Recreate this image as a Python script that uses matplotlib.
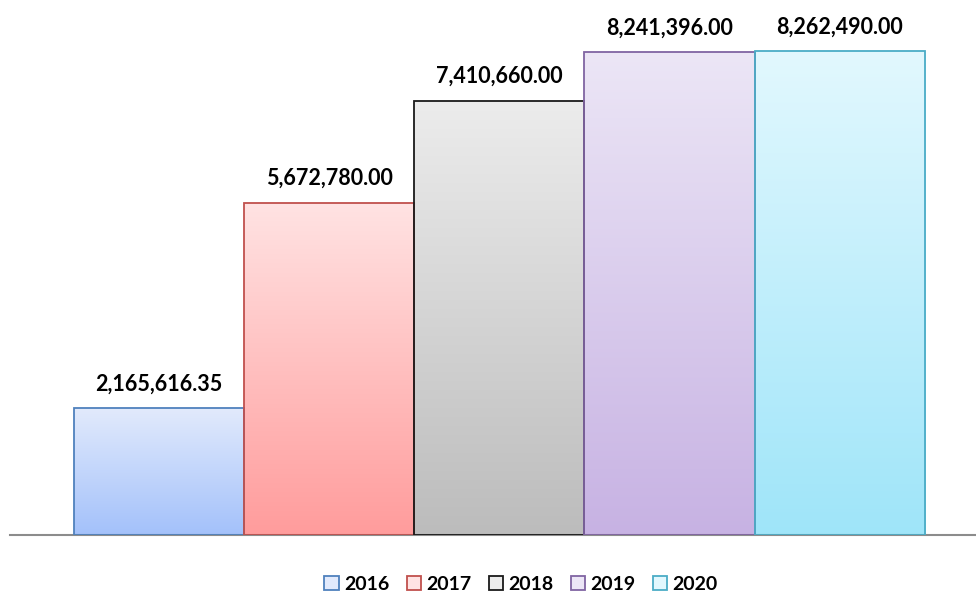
import numpy as np
import matplotlib.pyplot as plt
from matplotlib.colors import LinearSegmentedColormap
from matplotlib.patches import Patch

years = ['2016', '2017', '2018', '2019', '2020']
values = [2165616.35, 5672780.00, 7410660.00, 8241396.00, 8262490.00]
top_colors = ['#E2EAFC', '#FFE3E3', '#ECECEC', '#ECE6F6', '#E2F8FE']
bottom_colors = ['#A3C1FA', '#FF9C9C', '#BCBCBC', '#C7B2E3', '#9FE5F9']
edge_colors = ['#4F81BD', '#C0504D', '#1A1A1A', '#8064A2', '#4BACC6']

plt.rcParams['font.family'] = ['Lato', 'DejaVu Sans']

fig = plt.figure(figsize=(9.76, 5.99), dpi=100)
ax = fig.add_axes([10 / 976, (599 - 535) / 599, 966 / 976, (535 - 8) / 599])

x = np.arange(len(years))
bars = ax.bar(x, values, width=1.0, color='none', edgecolor=edge_colors,
              linewidth=1.3, zorder=3)

grad = np.linspace(0, 1, 256).reshape(-1, 1)
for b, top, bot in zip(bars, top_colors, bottom_colors):
    cmap = LinearSegmentedColormap.from_list('g', [bot, top])
    x0, y0 = b.get_x(), b.get_y()
    im = ax.imshow(grad, cmap=cmap, aspect='auto', origin='lower',
                   extent=[x0, x0 + b.get_width(), y0, y0 + b.get_height()],
                   zorder=2)
    im.set_clip_path(b)

for xi, v in zip(x, values):
    ax.annotate(f'{v:,.2f}', (xi, v), xytext=(0, 10), textcoords='offset points',
                ha='center', va='bottom', fontsize=15.5, fontweight='bold')

ax.set_xlim(-0.875, 4.8)
ax.set_ylim(0, 9.0e6)
for s in ['top', 'right', 'left']:
    ax.spines[s].set_visible(False)
ax.spines['bottom'].set_color('#8C8C8C')
ax.spines['bottom'].set_linewidth(1.5)
ax.set_xticks([])
ax.set_yticks([])

handles = [Patch(facecolor=t, edgecolor=e, linewidth=1.3)
           for t, e in zip(top_colors, edge_colors)]
leg = fig.legend(handles, years, loc='center', bbox_to_anchor=(521 / 976, 1 - 584 / 599),
                 ncol=5, frameon=False, handlelength=0.75, handleheight=0.75,
                 handletextpad=0.25, columnspacing=0.9, prop={'weight': 'bold', 'size': 14})

fig.savefig('out.png', dpi=100)
